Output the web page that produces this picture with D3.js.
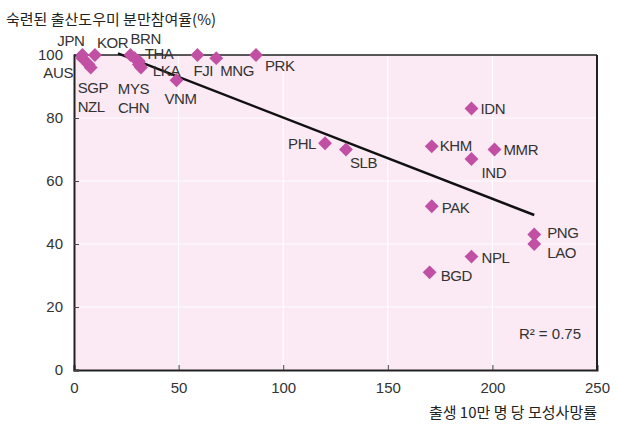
<!DOCTYPE html>
<html><head><meta charset="utf-8">
<script src="https://cdn.jsdelivr.net/npm/d3@7"></script>
<style>
body{margin:0;background:#fff;}
svg text{font-family:"Liberation Sans",Arial,sans-serif;}
</style></head>
<body><svg id="c" width="617" height="427"></svg>
<script>
const countries = ["JPN","KOR","AUS","SGP","NZL","BRN","THA","LKA","MYS","CHN","VNM","FJI","MNG","PRK","PHL","SLB","IDN","KHM","MMR","IND","PAK","PNG","LAO","NPL","BGD"];
const mortality = [4,10,4,8,7,27,29,31,31,32,49,59,68,87,120,130,190,171,201,190,171,220,220,190,170];
const attendance = [100,100,99,96,97,100,99,98,97,96,92,100,99,100,72,70,83,71,70,67,52,43,40,36,31];
const xTicks = [0,50,100,150,200,250];
const yTicks = [0,20,40,60,80,100];
const trendX = [21,220];
const trendY = [100.5,49.2];
const yTitle = "숙련된 출산도우미 분만참여율(%)";
const xTitle = "출생 10만 명 당 모성사망률";
const r2Label = "R² = 0.75";

// label offsets (layout only): [dx from point to text left, dy from point to text centre]
const labelPos = {
  JPN:[-25,-15], KOR:[2,-13], AUS:[-39,14], SGP:[-13,20], NZL:[-11,42],
  BRN:[0,-17], THA:[10,-5], LKA:[14,9], MYS:[-21,24], CHN:[-23,40],
  VNM:[-12,18], FJI:[-4,15], MNG:[4,12], PRK:[9,10], PHL:[-37,0],
  SLB:[4,13], IDN:[9,0], KHM:[8,-1], MMR:[9,0], IND:[10,14],
  PAK:[10,1], PNG:[13,-2], LAO:[13,8], NPL:[10,1], BGD:[11,3]
};

const W=617,H=427, m={l:74,r:20,t:55,b:57};
const svg=d3.select("#c");
const x=d3.scaleLinear().domain([0,250]).range([m.l,W-m.r]);
const y=d3.scaleLinear().domain([0,100]).range([H-m.b,m.t]);

svg.append("rect").attr("x",x(0)).attr("y",y(100)).attr("width",x(250)-x(0)).attr("height",y(0)-y(100)).attr("fill","#fbe9f3");

// grid
svg.append("g").selectAll("line").data(xTicks.slice(1,-1)).join("line")
  .attr("x1",d=>x(d)).attr("x2",d=>x(d)).attr("y1",y(0)).attr("y2",y(100)).attr("stroke","#fff").attr("stroke-width",1.2);
svg.append("g").selectAll("line").data(yTicks.slice(1,-1)).join("line")
  .attr("y1",d=>y(d)).attr("y2",d=>y(d)).attr("x1",x(0)).attr("x2",x(250)).attr("stroke","#fff").attr("stroke-width",1.2);

// axes
const xa=svg.append("g").attr("transform",`translate(0,${y(0)})`).call(d3.axisBottom(x).tickValues(xTicks).tickSize(-5).tickPadding(12).tickFormat(d3.format("d")));
const ya=svg.append("g").attr("transform",`translate(${x(0)},0)`).call(d3.axisLeft(y).tickValues(yTicks).tickSize(-5).tickPadding(11).tickFormat(d3.format("d")));
[xa,ya].forEach(a=>{
  a.select(".domain").attr("stroke","#222").attr("stroke-width",2);
  a.selectAll(".tick line").attr("stroke","#444");
  a.selectAll(".tick text").attr("fill","#333").style("font-size","15px");
});
// frame top/right
svg.append("line").attr("x1",x(0)).attr("x2",x(250)).attr("y1",y(100)).attr("y2",y(100)).attr("stroke","#222").attr("stroke-width",1.5);
svg.append("line").attr("x1",x(250)).attr("x2",x(250)).attr("y1",y(100)).attr("y2",y(0)).attr("stroke","#222").attr("stroke-width",2);

// trend line
svg.append("line").attr("x1",x(trendX[0])).attr("y1",y(trendY[0])).attr("x2",x(trendX[1])).attr("y2",y(trendY[1]))
  .attr("stroke","#111").attr("stroke-width",2.5);

const data=countries.map((c,i)=>({c,x:mortality[i],y:attendance[i]}));
svg.append("g").selectAll("path").data(data).join("path")
  .attr("d",d3.symbol().type(d3.symbolSquare).size(96))
  .attr("transform",d=>`translate(${x(d.x)},${y(d.y)}) rotate(45)`)
  .attr("fill","#c150a4");

svg.append("g").selectAll("text").data(data).join("text")
  .attr("x",d=>x(d.x)+labelPos[d.c][0]).attr("y",d=>y(d.y)+labelPos[d.c][1])
  .attr("dominant-baseline","central")
  .attr("fill","#333").style("font-size","15px").style("letter-spacing","-0.4px").text(d=>d.c);

svg.append("text").attr("x",x(250)-16).attr("y",y(10)).attr("text-anchor","end").attr("fill","#333")
  .style("font-size","15px").text(r2Label);

svg.append("text").attr("x",6).attr("y",25).attr("fill","#222")
  .style("font-family","'Noto Sans CJK KR',sans-serif").style("font-size","15px").text(yTitle);
svg.append("text").attr("x",x(250)).attr("y",418).attr("text-anchor","end").attr("fill","#222")
  .style("font-family","'Noto Sans CJK KR',sans-serif").style("font-size","15px").text(xTitle);
</script></body></html>
